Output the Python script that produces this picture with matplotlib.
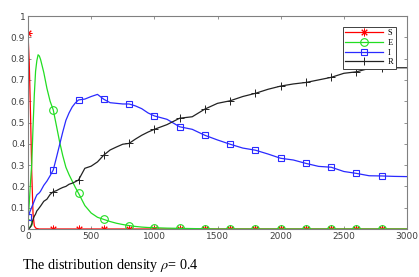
import numpy as np
import matplotlib
matplotlib.use('Agg')
import matplotlib.pyplot as plt

plt.rcParams['mathtext.fontset'] = 'stix'

# thời gian (trục x)
t = [0, 10, 20, 30, 40, 50, 60, 70, 80, 90, 100,
     125, 150, 175, 200, 225, 250, 275, 300, 325, 350, 375, 400,
     450, 500, 550, 600, 650, 700, 750, 800, 850, 900, 950, 1000,
     1100, 1200, 1300, 1400, 1500, 1600, 1700, 1800, 1900, 2000,
     2100, 2200, 2300, 2400, 2500, 2600, 2700, 2800, 2900, 3000]

S = [0.92, 0.78, 0.54, 0.26, 0.07, 0.015, 0.005, 0.002, 0.001, 0, 0,
     0, 0, 0, 0, 0, 0, 0, 0, 0, 0, 0, 0,
     0, 0, 0, 0, 0, 0, 0, 0, 0, 0, 0, 0,
     0, 0, 0, 0, 0, 0, 0, 0, 0, 0,
     0, 0, 0, 0, 0, 0, 0, 0, 0, 0]

E = [0.027, 0.12, 0.22, 0.31, 0.48, 0.63, 0.74, 0.79, 0.818, 0.812, 0.795,
     0.735, 0.66, 0.6, 0.559, 0.485, 0.41, 0.345, 0.29, 0.255, 0.225, 0.195, 0.168,
     0.11, 0.075, 0.055, 0.045, 0.035, 0.027, 0.021, 0.016, 0.012, 0.009, 0.007, 0.006,
     0.004, 0.003, 0.002, 0.001, 0, 0, 0, 0, 0, 0,
     0, 0, 0, 0, 0, 0, 0, 0, 0, 0]

I = [0.058, 0.073, 0.088, 0.103, 0.117, 0.132, 0.147, 0.16, 0.165, 0.17, 0.178,
     0.205, 0.225, 0.25, 0.277, 0.335, 0.395, 0.455, 0.51, 0.545, 0.573, 0.592, 0.606,
     0.61, 0.622, 0.632, 0.609, 0.593, 0.59, 0.587, 0.587, 0.578, 0.565, 0.545, 0.531,
     0.515, 0.48, 0.468, 0.44, 0.418, 0.398, 0.38, 0.37, 0.352, 0.332,
     0.324, 0.308, 0.294, 0.29, 0.27, 0.261, 0.25, 0.249, 0.247, 0.246]

R = [0, 0.002, 0.01, 0.025, 0.045, 0.06, 0.07, 0.085, 0.092, 0.1, 0.108,
     0.13, 0.14, 0.162, 0.175, 0.18, 0.188, 0.195, 0.2, 0.21, 0.215, 0.222, 0.23,
     0.285, 0.295, 0.315, 0.347, 0.371, 0.385, 0.398, 0.402, 0.422, 0.44, 0.455, 0.468,
     0.49, 0.52, 0.527, 0.563, 0.59, 0.602, 0.622, 0.637, 0.656, 0.671,
     0.681, 0.688, 0.7, 0.712, 0.731, 0.738, 0.754, 0.757, 0.757, 0.757]

marker_t = list(range(0, 3000, 200))
labels = ['S', 'E', 'I', 'R']

t_arr = np.array(t)
mk = [int(i) for i in np.where(np.isin(t_arr, marker_t))[0]]

fig = plt.figure(figsize=(4.19, 2.77), dpi=100)
ax = fig.add_axes([0.0668, 0.1733, 0.9046, 0.7689])

# dấu * kiểu MATLAB (hình sao gạch)
ax.plot(t, S, color='red', lw=0.9, marker=(8, 2, 0), ms=5.5, mew=0.7, markevery=mk, label=labels[0])
ax.plot(t, E, color='#22dd22', lw=0.9, marker='o', ms=5.5, mfc='none', mew=0.8, markevery=mk, label=labels[1])
ax.plot(t, I, color='#2a2aff', lw=0.9, marker='s', ms=4.2, mfc='none', mew=0.8, markevery=mk, label=labels[2])
ax.plot(t, R, color='#222222', lw=0.9, marker='+', ms=5.5, mew=0.7, markevery=mk, label=labels[3])

ax.set_xlim(0, 3000)
ax.set_ylim(0, 1)
ax.set_xticks(range(0, 3001, 500))
ax.set_yticks(np.arange(0, 1.01, 0.1))
ax.set_yticklabels(['0', '0.1', '0.2', '0.3', '0.4', '0.5', '0.6', '0.7', '0.8', '0.9', '1'])
ax.tick_params(direction='in', top=True, right=True, length=2.5, width=0.6,
               labelsize=6.5, labelcolor='#404040', color='#808080', pad=2)
for sp in ax.spines.values():
    sp.set_color('#808080')
    sp.set_linewidth(0.8)

leg = ax.legend(loc='upper right', prop={'family': 'Liberation Serif', 'size': 6},
                handlelength=4.5, fancybox=False, edgecolor='#404040', framealpha=1,
                borderaxespad=1.3, labelspacing=0.2, borderpad=0.3, handletextpad=0.6)
leg.get_frame().set_linewidth(0.7)

fig.text(0.052, 0.03, 'The distribution density $\\rho$= 0.4', family='Liberation Serif',
         fontsize=10.2, color='black')

plt.savefig('out.png', dpi=100)
plt.close()
